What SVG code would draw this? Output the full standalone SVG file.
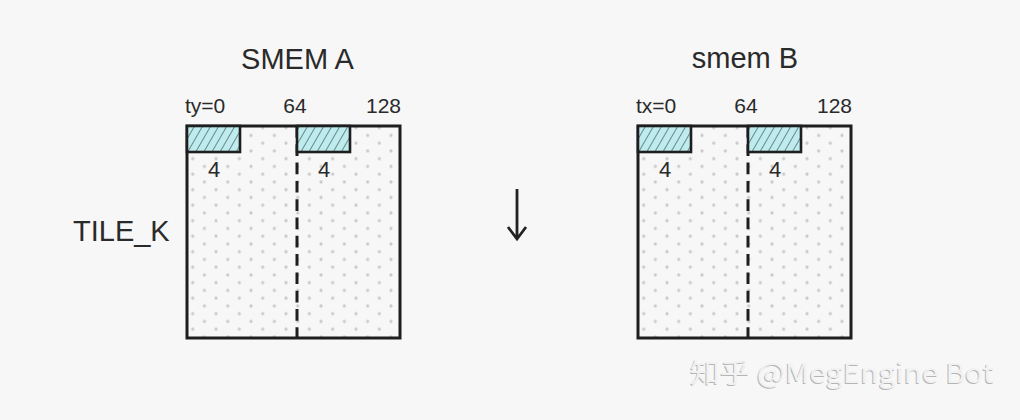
<svg xmlns="http://www.w3.org/2000/svg" width="1020" height="420" viewBox="0 0 1020 420">
<defs>
<pattern id="dots" patternUnits="userSpaceOnUse" x="186.87" y="247.8" width="23.33" height="15.5">
<circle cx="5.83" cy="3.875" r="1.6" fill="#c9c9c9"/>
<circle cx="17.5" cy="11.625" r="1.6" fill="#c9c9c9"/>
</pattern>
<pattern id="hatch" patternUnits="userSpaceOnUse" width="7" height="7" patternTransform="rotate(30)">
<rect width="7" height="7" fill="#bdebee"/>
<line x1="0" y1="0" x2="0" y2="7" stroke="#222" stroke-width="1"/>
</pattern>
</defs>
<style>
.lbl{font-family:"Liberation Sans",Arial,sans-serif;fill:#2a2a2a}
.title{font-size:29px}
.num{font-size:21px}
.four{font-size:22px}
.box{fill:url(#dots);stroke:#1e1e1e;stroke-width:3}
.hat{fill:url(#hatch);stroke:#1e1e1e;stroke-width:2.6}
.dash{stroke:#1e1e1e;stroke-width:3;stroke-dasharray:11.7 6.6}
.wm{font-family:"Noto Sans CJK SC","Noto Sans",sans-serif;font-size:27px}
</style>
<rect width="1020" height="420" fill="#f7f7f7"/>

<g id="smemA">
<text class="lbl title" x="297.5" y="69" text-anchor="middle">SMEM A</text>
<text class="lbl num" x="185" y="113">ty=0</text>
<text class="lbl num" x="295" y="113" text-anchor="middle">64</text>
<text class="lbl num" x="401" y="113" text-anchor="end">128</text>
<rect class="box" x="187" y="126" width="213" height="212"/>
<line class="dash" x1="297" y1="126" x2="297" y2="338"/>
<rect class="hat" x="187" y="126" width="53" height="26"/>
<rect class="hat" x="297" y="126" width="53" height="26"/>
<text class="lbl four" x="214" y="177" text-anchor="middle">4</text>
<text class="lbl four" x="324" y="177" text-anchor="middle">4</text>
</g>

<g id="tileK">
<text class="lbl" x="73" y="241" font-size="29">TILE_K</text>
</g>

<g id="arrow">
<path d="M517 189 V238 M508 227 L517 239 L526 227" fill="none" stroke="#222" stroke-width="2.8"/>
</g>

<g id="smemB" transform="translate(451,0)">
<text class="lbl title" x="294" y="68" text-anchor="middle">smem B</text>
<text class="lbl num" x="185" y="113">tx=0</text>
<text class="lbl num" x="295" y="113" text-anchor="middle">64</text>
<text class="lbl num" x="401" y="113" text-anchor="end">128</text>
<rect class="box" x="187" y="126" width="213" height="212"/>
<line class="dash" x1="297" y1="126" x2="297" y2="338"/>
<rect class="hat" x="187" y="126" width="53" height="26"/>
<rect class="hat" x="297" y="126" width="53" height="26"/>
<text class="lbl four" x="214" y="177" text-anchor="middle">4</text>
<text class="lbl four" x="324" y="177" text-anchor="middle">4</text>
</g>

<g id="watermark">
<text class="wm" x="689" y="384" fill="#b5b5b5" textLength="304" lengthAdjust="spacingAndGlyphs">知乎 @MegEngine Bot</text>
<text class="wm" x="690" y="383" fill="#f2f2f2" textLength="304" lengthAdjust="spacingAndGlyphs">知乎 @MegEngine Bot</text>
</g>
</svg>
